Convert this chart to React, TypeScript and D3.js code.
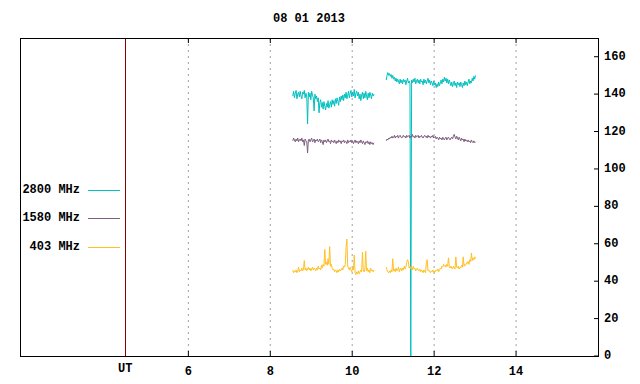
import React from "react";
import * as d3 from "d3";

const width = 640;
const height = 384;
const margin = { top: 38, right: 42, bottom: 28, left: 20 };

const title = "08 01 2013";
const xTicks = [6, 8, 10, 12, 14];
const yTicks = [0, 20, 40, 60, 80, 100, 120, 140, 160];
const utMark = 4.46;

// two observing runs, one sample every 0.02 h
const sampleStep = 0.02;
const runStarts = [8.55, 10.83];

const mhz2800Run1 = [
  139, 141.5, 138, 140.5, 142, 137.5, 140, 141, 138.5, 141.5,
  139, 137.5, 141, 140, 142, 138, 140.5, 139, 124, 141,
  138.5, 140.5, 137, 141.5, 139.5, 138, 131, 140, 137.5, 139,
  136, 138, 130, 135.5, 137, 133, 135.5, 132, 136, 133.5,
  131.5, 135, 133, 136.5, 132.5, 134.5, 136, 133, 137, 134.5,
  136.5, 133.5, 137.5, 135, 138, 136, 134, 138.5, 136, 139,
  137, 139.5, 136.5, 140, 138, 141, 137.5, 139.5, 141.5, 138,
  140.5, 142, 138.5, 141, 139, 142.5, 138, 140.5, 141.5, 139,
  141, 137.5, 140, 136.5, 139.5, 141, 137.5, 140.5, 138, 141.5,
  139, 137, 140.5, 138, 141, 139.5, 137.5, 140.5, 139, 140,
];
const mhz2800Run2 = [
  147.5, 150, 151.5, 150, 151, 149.5, 150.5, 148.5, 150, 148,
  149, 147, 148.5, 146.5, 148, 147, 145.5, 148, 146, 147.5,
  145.5, 148, 146.5, 147.5, 145, 147, 148.5, 146, 147, 145.5,
  0, 147.5, 146, 148, 146.5, 148.5, 145.5, 147, 148, 146,
  147.5, 145.5, 148, 146.5, 147, 145, 148, 146, 147.5, 145.5,
  147, 148.5, 146, 147.5, 145, 147, 146, 144.5, 147, 145,
  146, 143.5, 145.5, 144, 146.5, 144.5, 146, 147.5, 145.5, 148,
  146.5, 149, 147, 148.5, 146, 148, 145.5, 147.5, 146, 144.5,
  146.5, 144, 145.5, 147, 144.5, 146, 143.5, 146.5, 145, 146,
  144, 146.5, 145, 143.5, 146, 144.5, 147, 145, 146.5, 144.5,
  146.5, 148, 145.5, 147, 146, 148.5, 147, 149.5, 148, 150,
];

const mhz1580Run1 = [
  115, 116.5, 115.5, 114.5, 116, 115, 116.5, 114.5, 115.5, 116,
  115, 116.5, 114.5, 115.5, 112.5, 116, 115, 114.5, 108.5, 115.5,
  116, 114.5, 115.5, 116.5, 114.5, 115, 116, 114, 115.5, 115,
  116, 114.5, 115, 116, 114, 115.5, 114.5, 113, 115.5, 114.5,
  115.5, 114, 115, 116, 114.5, 115, 113.5, 115.5, 114.5, 115,
  114, 115.5, 114.5, 113.5, 115, 114, 115.5, 114.5, 115, 113.5,
  115, 114.5, 115.5, 114, 115, 114.5, 113.5, 115.5, 114, 115,
  114.5, 115.5, 114, 115, 113.5, 114.5, 115.5, 114, 115, 114.5,
  113.5, 115, 114, 115.5, 114.5, 113.5, 115, 114, 113, 114.5,
  114, 115, 113.5, 114.5, 113, 114.5, 113.5, 114, 113, 114,
];
const mhz1580Run2 = [
  115, 116, 115.5, 116.5, 116, 117, 116.5, 117.5, 116.5, 117,
  118, 116.5, 117.5, 117, 118, 116.5, 117.5, 118, 117, 116.5,
  117.5, 118, 117, 117.5, 116.5, 118, 117, 117.5, 118, 116.5,
  117.5, 117, 118.5, 117, 117.5, 116.5, 118, 117, 117.5, 118,
  116.5, 117.5, 117, 118, 117, 116.5, 117.5, 118, 117, 117.5,
  116.5, 118, 117, 117.5, 116.5, 117.5, 117, 118, 116.5, 117,
  117.5, 116, 117, 116.5, 115.5, 117, 116, 116.5, 115.5, 117,
  116, 115.5, 116.5, 117, 115.5, 116.5, 117, 116, 115.5, 116.5,
  117, 116, 117.5, 118.5, 117, 116, 117.5, 116.5, 115.5, 117,
  116, 115, 116.5, 115.5, 116, 114.5, 116, 115, 115.5, 114.5,
  115.5, 114.5, 115, 114, 115.5, 114.5, 114, 115, 114, 114.5,
];

const mhz403Run1 = [
  46, 44.5, 45.5, 45, 46, 44.5, 45.5, 47.5, 45, 46,
  45.5, 47, 45.5, 46.5, 51, 46, 47, 45.5, 46.5, 47.5,
  46, 47, 45.5, 46.5, 47.5, 46, 47, 46.5, 45.5, 47,
  46, 48, 46.5, 47, 46, 48.5, 47, 49, 48, 57,
  49, 50, 48.5, 52, 49, 58.5, 48, 49, 47, 46,
  46.5, 45, 46, 45.5, 44.5, 46, 45, 46.5, 45.5, 46,
  47, 46, 48, 47.5, 49, 58, 62.5, 48, 47, 46,
  47.5, 46, 45, 47, 46, 54, 44.5, 43.5, 45, 44,
  45.5, 44, 45, 46, 45, 55.5, 46, 45, 46.5, 56,
  45.5, 47, 45, 46, 44.5, 47, 45.5, 46, 45, 46,
];
const mhz403Run2 = [
  47.5, 46, 45, 44.5, 45.5, 44.5, 46, 45, 52, 45.5,
  46.5, 45, 47, 45.5, 46, 47.5, 45, 46.5, 47, 45.5,
  47, 46, 48, 46.5, 47.5, 50, 51.5, 50.5, 47, 48,
  46.5, 47.5, 46, 48, 46.5, 47, 45.5, 46.5, 47, 46,
  45.5, 46.5, 45, 46, 45.5, 44.5, 46, 45, 44.5, 50,
  51.5, 45.5, 46, 45, 44.5, 45.5, 45, 46, 44.5, 45.5,
  45, 46, 45.5, 46.5, 45, 46, 47, 46.5, 48, 47.5,
  49, 48, 48.5, 47.5, 49, 48, 52.5, 47.5, 47, 48,
  47, 46.5, 48, 47, 46.5, 53, 47.5, 47, 48, 46.5,
  47.5, 47, 48.5, 47.5, 53, 48, 49, 48.5, 50, 49.5,
  50.5, 49, 51.5, 50.5, 55, 51, 52.5, 51.5, 53, 52,
];

const series = [
  { name: "2800 MHz", color: "#00c0c0", runs: [mhz2800Run1, mhz2800Run2] },
  { name: "1580 MHz", color: "#7f5f7f", runs: [mhz1580Run1, mhz1580Run2] },
  { name: "403 MHz", color: "#ffc020", runs: [mhz403Run1, mhz403Run2] },
];

const font = "'Liberation Mono', 'DejaVu Sans Mono', monospace";

export default function App() {
  const x = d3
    .scaleLinear()
    .domain([1.89, 16.0])
    .range([margin.left, width - margin.right]);
  const y = d3
    .scaleLinear()
    .domain([0, 170])
    .range([height - margin.bottom, margin.top]);

  const line = d3
    .line<[number, number]>()
    .x(d => x(d[0]))
    .y(d => y(d[1]));

  const x0 = margin.left;
  const x1 = width - margin.right;
  const y0 = height - margin.bottom;
  const y1 = margin.top;

  return (
    <svg
      width={width}
      height={height}
      style={{ position: "absolute", left: 0, top: 0, background: "#fff" }}
      fontFamily={font}
      fontWeight="bold"
      fontSize={12}
    >
      <text x={309} y={19} textAnchor="middle" dominantBaseline="central">
        {title}
      </text>

      {xTicks.map(t => (
        <g key={t}>
          <line
            x1={x(t)}
            x2={x(t)}
            y1={y1}
            y2={y0}
            stroke="#a0a0a0"
            strokeDasharray="2,4"
          />
          <line x1={x(t)} x2={x(t)} y1={y0} y2={y0 - 5} stroke="#000" />
          <line x1={x(t)} x2={x(t)} y1={y1} y2={y1 + 5} stroke="#000" />
          <text x={x(t)} y={372} textAnchor="middle" dominantBaseline="central">
            {t}
          </text>
        </g>
      ))}

      {yTicks.map(t => (
        <g key={t}>
          <line x1={x1} x2={x1 - 4} y1={y(t)} y2={y(t)} stroke="#000" />
          <text x={604} y={y(t)} dominantBaseline="central">
            {t}
          </text>
        </g>
      ))}

      <line
        x1={Math.round(x(utMark)) + 0.5}
        x2={Math.round(x(utMark)) + 0.5}
        y1={y1}
        y2={y0}
        stroke="#8b0000"
      />
      <text x={x(utMark)} y={369} textAnchor="middle" dominantBaseline="central">
        UT
      </text>

      {series.map(s =>
        s.runs.map((vals, r) => (
          <path
            key={s.name + r}
            d={line(vals.map((v, i) => [runStarts[r] + i * sampleStep, v])) || ""}
            fill="none"
            stroke={s.color}
            strokeWidth={1}
          />
        ))
      )}

      {series.map((s, i) => {
        const ly = [190, 218, 247][i];
        return (
          <g key={s.name}>
            <text x={80} y={ly} textAnchor="end" dominantBaseline="central">
              {s.name}
            </text>
            <line x1={88} x2={120} y1={ly + 0.5} y2={ly + 0.5} stroke={s.color} />
          </g>
        );
      })}

      <rect
        x={x0 + 0.5}
        y={y1 + 0.5}
        width={x1 - x0}
        height={y0 - y1}
        fill="none"
        stroke="#000"
      />
    </svg>
  );
}
